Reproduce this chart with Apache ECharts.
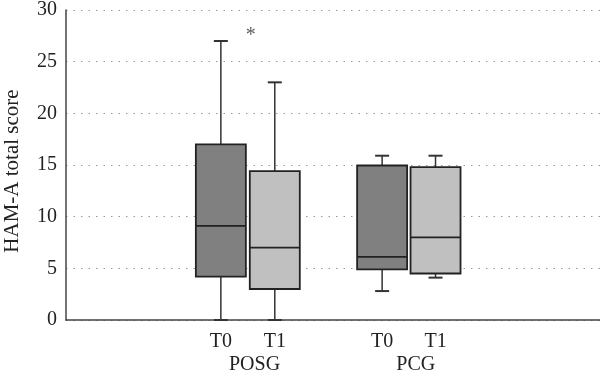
<!DOCTYPE html>
<html>
<head>
<meta charset="utf-8">
<script src="https://cdn.jsdelivr.net/npm/echarts@6/dist/echarts.min.js"></script>
<style>html,body{margin:0;padding:0;background:#fff}#c{width:600px;height:380px}</style>
</head>
<body>
<div id="c"></div>
<script>
// Box labels and their positions along the (hidden) x value scale
var boxLabels = ['T0', 'T1', 'T0', 'T1'];
var boxX = [2.9, 3.91, 5.92, 6.92];
var groupLabels = ['POSG', 'PCG'];
var groupX = [3.53, 6.55];
// [min, Q1, median, Q3, max]
var posgT0 = [0, 4.2, 9.1, 17.0, 27.0];
var posgT1 = [0, 3.0, 7.0, 14.4, 23.0];
var pcgT0 = [2.8, 4.9, 6.1, 14.95, 15.9];
var pcgT1 = [4.1, 4.5, 8.0, 14.8, 15.9];
var boxFills = ['#808080', '#c0c0c0', '#808080', '#c0c0c0'];
var yTicks = [0, 5, 10, 15, 20, 25, 30];
var asterisk = [[3.46, 27.5]];

var stats = [posgT0, posgT1, pcgT0, pcgT1];
var boxData = stats.map(function (s, i) { return [boxX[i]].concat(s); });

var serif = '"Liberation Serif", "DejaVu Serif", serif';
var chart = echarts.init(document.getElementById('c'), null, {renderer: 'canvas'});

function renderBox(params, api) {
  var x = api.value(0);
  var pMin = api.coord([x, api.value(1)]);
  var pQ1 = api.coord([x, api.value(2)]);
  var pMed = api.coord([x, api.value(3)]);
  var pQ3 = api.coord([x, api.value(4)]);
  var pMax = api.coord([x, api.value(5)]);
  var cx = pMin[0];
  var hw = 25, cw = 7;
  var lineStyle = {stroke: '#333', lineWidth: 1.5};
  var fill = boxFills[params.dataIndex];
  return {
    type: 'group',
    children: [
      {type: 'line', shape: {x1: cx, y1: pMax[1], x2: cx, y2: pQ3[1]}, style: lineStyle},
      {type: 'line', shape: {x1: cx, y1: pQ1[1], x2: cx, y2: pMin[1]}, style: lineStyle},
      {type: 'line', shape: {x1: cx - cw, y1: pMax[1], x2: cx + cw, y2: pMax[1]}, style: {stroke: '#333', lineWidth: 2}},
      {type: 'line', shape: {x1: cx - cw, y1: pMin[1], x2: cx + cw, y2: pMin[1]}, style: {stroke: '#333', lineWidth: 2}},
      {type: 'rect', shape: {x: cx - hw, y: pQ3[1], width: hw * 2, height: pQ1[1] - pQ3[1]},
        style: {fill: fill, stroke: '#222', lineWidth: 1.8}},
      {type: 'line', shape: {x1: cx - hw, y1: pMed[1], x2: cx + hw, y2: pMed[1]}, style: {stroke: '#222', lineWidth: 1.8}}
    ]
  };
}

var option = {
  animation: false,
  grid: {left: 66, right: 0, top: 10, bottom: 60, containLabel: false, outerBoundsMode: 'none'},
  xAxis: [{
    type: 'value', min: 0, max: 10,
    splitLine: {show: false},
    axisTick: {show: false},
    axisLine: {show: true, onZero: false, lineStyle: {color: '#444', width: 1.5}},
    axisLabel: {
      show: true, customValues: boxX, margin: 12,
      formatter: function (v) { var i = boxX.indexOf(v); return i >= 0 ? boxLabels[i] : ''; },
      fontFamily: serif, fontSize: 20, color: '#222'
    }
  }, {
    type: 'value', min: 0, max: 10, position: 'bottom', offset: 23,
    splitLine: {show: false},
    axisTick: {show: false},
    axisLine: {show: false},
    axisLabel: {
      show: true, customValues: groupX, margin: 12,
      formatter: function (v) { var i = groupX.indexOf(v); return i >= 0 ? groupLabels[i] : ''; },
      fontFamily: serif, fontSize: 20, color: '#222'
    }
  }],
  yAxis: {
    type: 'value', min: 0, max: 30, interval: 5,
    name: 'HAM-A total score', nameLocation: 'middle', nameGap: 43, nameRotate: 90,
    nameTextStyle: {fontFamily: serif, fontSize: 21, color: '#222', padding: [0, 12, 0, 0]},
    axisLine: {show: true, lineStyle: {color: '#444', width: 1.5}},
    axisTick: {show: false},
    axisLabel: {
      margin: 9, fontFamily: serif, fontSize: 20, color: '#222', padding: [4, 0, 0, 0],
      formatter: function (v) { return yTicks.indexOf(v) >= 0 ? String(v) : ''; }
    },
    splitLine: {show: true, lineStyle: {color: '#999', type: [1.5, 6], width: 1}}
  },
  series: [{
    type: 'custom',
    xAxisIndex: 0,
    renderItem: renderBox,
    encode: {x: 0, y: [1, 2, 3, 4, 5]},
    data: boxData,
    z: 5
  }, {
    type: 'scatter',
    xAxisIndex: 0,
    symbolSize: 0,
    data: asterisk,
    label: {show: true, position: 'inside', formatter: '*', fontFamily: serif, fontSize: 20, color: '#333'},
    z: 6
  }]
};
chart.setOption(option);
</script>
</body>
</html>
